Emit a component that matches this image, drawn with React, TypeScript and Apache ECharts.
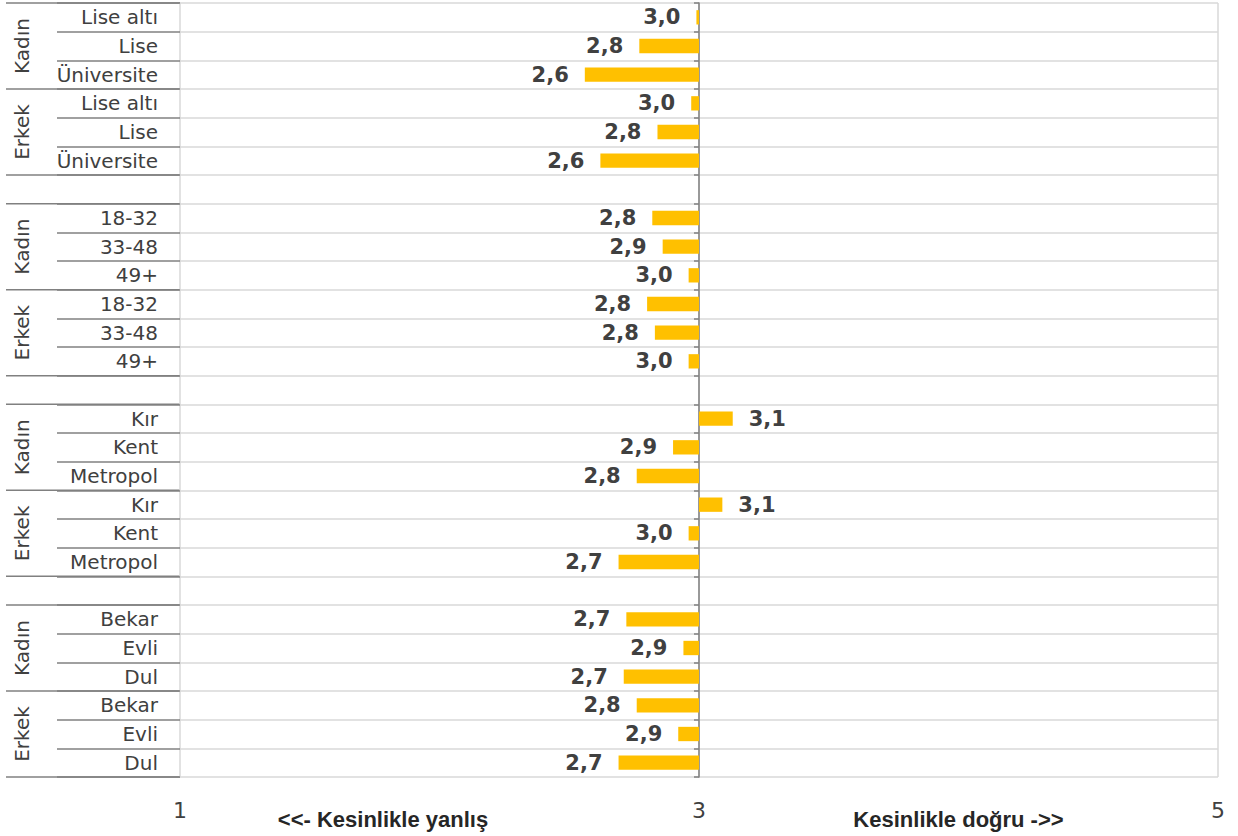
import React, { useEffect, useRef } from "react";
import * as echarts from "echarts";

// ---- data ----
const categories = [
  "Lise altı", "Lise", "Üniversite", "Lise altı", "Lise", "Üniversite", "",
  "18-32", "33-48", "49+", "18-32", "33-48", "49+", "",
  "Kır", "Kent", "Metropol", "Kır", "Kent", "Metropol", "",
  "Bekar", "Evli", "Dul", "Bekar", "Evli", "Dul",
];

const values: (number | null)[] = [
  2.99, 2.77, 2.56, 2.97, 2.84, 2.62, null,
  2.82, 2.86, 2.96, 2.8, 2.83, 2.96, null,
  3.13, 2.9, 2.76, 3.09, 2.96, 2.69, null,
  2.72, 2.94, 2.71, 2.76, 2.92, 2.69,
];

const groupNames = ["Kadın", "Erkek", "Kadın", "Erkek", "Kadın", "Erkek", "Kadın", "Erkek"];
const groupStarts = [0, 3, 7, 10, 14, 17, 21, 24];
const groupSizes = [3, 3, 3, 3, 3, 3, 3, 3];

const scaleMin = 1;
const scaleMid = 3;
const scaleMax = 5;
const tickStep = 2;

const leftTitle = "<<- Kesinlikle yanlış";
const rightTitle = "Kesinlikle doğru ->>";

// ---- layout ----
const W = 1238;
const H = 836;
const GRID = { left: 180, right: 20, top: 3, bottom: 59 };
const ROW_H = (H - GRID.top - GRID.bottom) / categories.length;

export default function App() {
  const ref = useRef<HTMLDivElement>(null);

  useEffect(() => {
    if (!ref.current) return;
    const chart = echarts.init(ref.current, undefined, { renderer: "svg" });

    const graphics: any[] = [];
    const boundarySet = new Set<number>();
    groupStarts.forEach((s, i) => {
      boundarySet.add(s);
      boundarySet.add(s + groupSizes[i]);
      graphics.push({
        type: "text",
        x: 22,
        y: GRID.top + (s + groupSizes[i] / 2) * ROW_H,
        rotation: Math.PI / 2,
        style: {
          text: groupNames[i],
          fontSize: 20,
          fontFamily: "DejaVu Sans",
          fill: "#404040",
          textAlign: "center",
          textVerticalAlign: "middle",
        },
      });
    });
    boundarySet.forEach((b) => {
      const y = GRID.top + b * ROW_H;
      graphics.push({
        type: "line",
        shape: { x1: 6, y1: y, x2: GRID.left, y2: y },
        style: { stroke: "#808080", lineWidth: 1.5 },
      });
    });
    const plotLeft = GRID.left;
    const plotRight = W - GRID.right;
    const midX = (plotLeft + plotRight) / 2;
    graphics.push({
      type: "text",
      x: 383,
      y: 819,
      style: {
        text: leftTitle,
        fontSize: 22,
        fontWeight: "bold",
        fontFamily: "Liberation Sans",
        fill: "#262626",
        textAlign: "center",
        textVerticalAlign: "middle",
      },
    });
    graphics.push({
      type: "text",
      x: (midX + plotRight) / 2,
      y: 819,
      style: {
        text: rightTitle,
        fontSize: 22,
        fontWeight: "bold",
        fontFamily: "Liberation Sans",
        fill: "#262626",
        textAlign: "center",
        textVerticalAlign: "middle",
      },
    });

    chart.setOption({
      animation: false,
      grid: { ...GRID, outerBoundsMode: "none" },
      xAxis: {
        type: "value",
        min: scaleMin - scaleMid,
        max: scaleMax - scaleMid,
        interval: tickStep,
        axisLine: { show: false },
        axisTick: { show: false },
        axisLabel: {
          formatter: (v: number) => String(v + scaleMid),
          fontSize: 22,
          fontFamily: "DejaVu Sans",
          color: "#404040",
          margin: 22,
        },
        splitLine: { show: true, lineStyle: { color: "#d9d9d9", width: 1.5 } },
      },
      yAxis: [
        {
          type: "category",
          data: categories,
          inverse: true,
          position: "left",
          axisLine: { show: false, onZero: false },
          axisTick: {
            show: true,
            length: 123,
            interval: 0,
            lineStyle: { color: "#808080", width: 1.5 },
          },
          axisLabel: {
            interval: 0,
            margin: 22,
            fontSize: 20,
            fontFamily: "DejaVu Sans",
            color: "#404040",
          },
          splitLine: { show: false },
        },
        {
          type: "category",
          data: categories,
          inverse: true,
          position: "left",
          axisLine: { show: true, onZero: true, lineStyle: { color: "#808080", width: 1.5 } },
          axisTick: { show: true, length: 5, interval: 0, lineStyle: { color: "#808080", width: 1.5 } },
          axisLabel: { show: false },
          splitLine: { show: true, interval: 0, lineStyle: { color: "#d9d9d9", width: 1.5 } },
        },
      ],
      series: [
        {
          type: "bar",
          xAxisIndex: 0,
          yAxisIndex: 0,
          barWidth: "50%",
          itemStyle: { color: "#FFC000" },
          data: values.map((v) =>
            v == null
              ? "-"
              : { value: v - scaleMid, label: { position: v < scaleMid ? "left" : "right" } }
          ),
          label: {
            show: true,
            distance: 16,
            fontSize: 21,
            fontWeight: "bold",
            fontFamily: "DejaVu Sans",
            color: "#404040",
            formatter: (p: any) => {
              const v = values[p.dataIndex];
              return v == null ? "" : v.toFixed(1).replace(".", ",");
            },
          },
        },
      ],
      graphic: graphics,
    });

    return () => chart.dispose();
  }, []);

  return (
    <div
      ref={ref}
      style={{ position: "fixed", left: 0, top: 0, width: W, height: H, background: "#fff" }}
    />
  );
}
